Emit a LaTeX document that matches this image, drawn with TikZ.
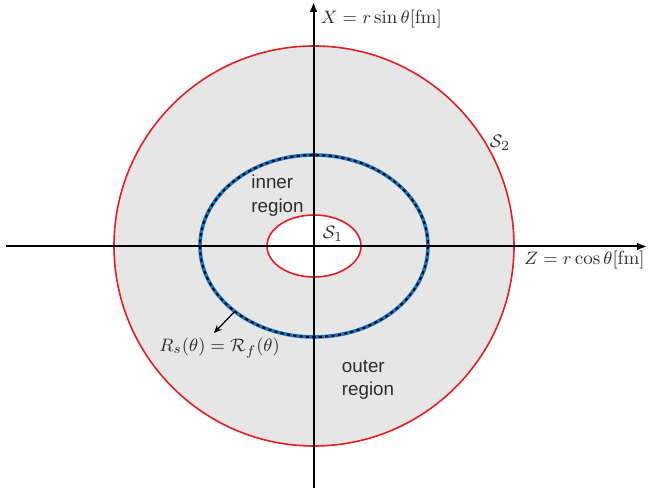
\documentclass[tikz,border=0pt]{standalone}
\usepackage{fontspec}
\newfontfamily\labelsans{Liberation Sans}
\usetikzlibrary{arrows.meta}
\definecolor{annulus}{RGB}{230,230,230}
\definecolor{rimred}{RGB}{225,30,35}
\definecolor{ifblue}{RGB}{20,120,200}
\definecolor{txt}{RGB}{45,45,45}
\tikzset{
  rim/.style={draw=rimred, line width=0.8pt},
  axis/.style={line width=1pt, -{Latex[length=5pt,width=4pt]}},
  mathlbl/.style={inner sep=0pt, text=txt, font=\fontsize{9.5}{11}\selectfont},
  regionlbl/.style={inner sep=0pt, text=txt, align=left, font=\labelsans\fontsize{9.4}{11.85}\selectfont},
}
\begin{document}
\begin{tikzpicture}[x=0.5pt,y=-0.5pt]
\useasboundingbox (0,0) rectangle (648,490);
% gray annulus
\fill[annulus] (314,246) circle [radius=200];
\fill[white] (314,246) ellipse [x radius=47, y radius=31];
% boundaries
\draw[rim] (314,246) circle [radius=200];
\draw[rim] (314,246) ellipse [x radius=47, y radius=31];
% interface
\draw[ifblue, line width=1.8pt] (314,246) ellipse [x radius=114, y radius=91];
\draw[black, line width=1.0pt, dash pattern=on 1.6pt off 1.6pt] (314,246) ellipse [x radius=114, y radius=91];
% axes
\coordinate (zs) at (6,246.5);
\coordinate (ze) at (647,246.5);
\coordinate (xs) at (313.5,488);
\coordinate (xe) at (313.5,2);
\draw[axis] (zs) -- (ze);
\draw[axis] (xs) -- (xe);
% labels
\node[mathlbl, anchor=west] (xl) at (320.5,19) {$X=r\sin\theta[\mathrm{fm}]$};
\node[mathlbl, anchor=west] (zl) at (524,260) {$Z=r\cos\theta[\mathrm{fm}]$};
\node[mathlbl] (s1) at (333,234) {$\mathcal{S}_1$};
\node[mathlbl] (s2) at (500,143) {$\mathcal{S}_2$};
\node[mathlbl, anchor=west] (rs) at (159,348) {$R_s(\theta)=\mathcal{R}_f(\theta)$};
\node[regionlbl, anchor=base west] (inner) at (251,212.7) {inner\\region};
\node[regionlbl, anchor=base west] (outer) at (341.5,396) {outer\\region};
% interface pointer
\coordinate (ifpt) at (234.8,311.4);
\coordinate (ifend) at (214,333);
\draw[line width=0.6pt, -{Stealth[length=4pt,width=3.5pt]}] (ifpt) -- (ifend);
\end{tikzpicture}
\end{document}
